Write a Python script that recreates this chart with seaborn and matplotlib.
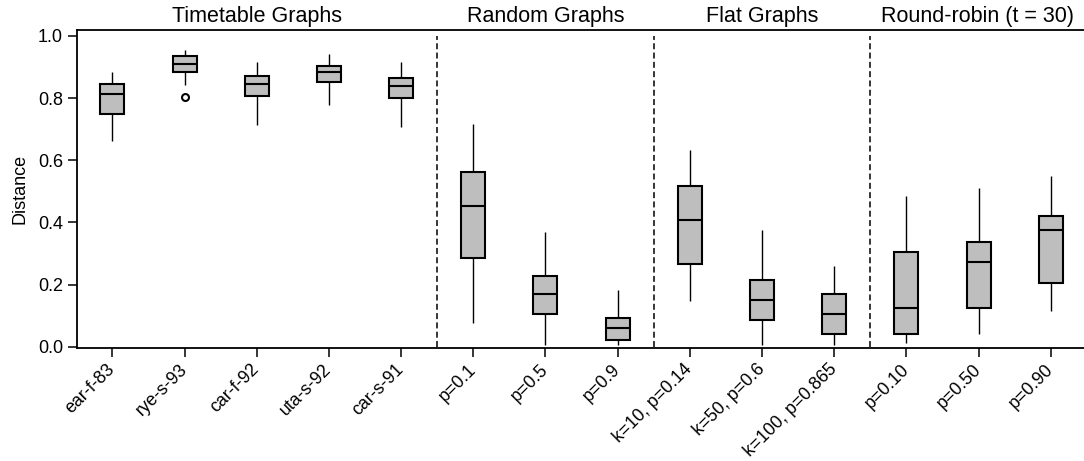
import matplotlib
matplotlib.use("Agg")
import matplotlib.pyplot as plt
import matplotlib.transforms as mtransforms
import pandas as pd
import seaborn as sns

# Instance names along the x axis, grouped into four families
categories = [
    "ear-f-83", "rye-s-93", "car-f-92", "uta-s-92", "car-s-91",
    "p=0.1", "p=0.5", "p=0.9",
    "k=10, p=0.14", "k=50, p=0.6", "k=100, p=0.865",
    "p=0.10", "p=0.50", "p=0.90",
]
group_names = ["Timetable Graphs", "Random Graphs", "Flat Graphs", "Round-robin (t = 30)"]
group_sizes = [5, 3, 3, 3]

# Five-number summaries of the distance per instance
whisker_low = [0.662, 0.842, 0.714, 0.778, 0.708,
               0.077, 0.005, 0.005,
               0.148, 0.005, 0.005,
               0.013, 0.040, 0.116]
q1 = [0.748, 0.885, 0.806, 0.852, 0.800,
      0.285, 0.105, 0.021,
      0.265, 0.085, 0.040,
      0.040, 0.125, 0.206]
median = [0.813, 0.911, 0.845, 0.885, 0.838,
          0.452, 0.169, 0.059,
          0.408, 0.150, 0.105,
          0.125, 0.272, 0.376]
q3 = [0.845, 0.936, 0.870, 0.903, 0.864,
      0.561, 0.228, 0.091,
      0.517, 0.214, 0.169,
      0.305, 0.337, 0.420]
whisker_high = [0.885, 0.955, 0.917, 0.942, 0.917,
                0.716, 0.369, 0.182,
                0.633, 0.376, 0.261,
                0.485, 0.510, 0.550]
outliers = {"rye-s-93": [0.804]}

# Long-form samples whose quartiles and whisker ends equal the summaries above
rows = []
for i, name in enumerate(categories):
    sample = outliers.get(name, []) + [whisker_low[i], q1[i], q1[i], median[i],
                                       median[i], q3[i], q3[i], whisker_high[i]]
    rows += [{"instance": name, "distance": v} for v in sample]
df = pd.DataFrame(rows)

sns.set_style("ticks")
plt.rcParams["font.family"] = ["Liberation Sans", "DejaVu Sans"]
plt.rcParams["lines.scale_dashes"] = False
for key in ["text.color", "axes.labelcolor", "xtick.color", "ytick.color",
            "xtick.labelcolor", "ytick.labelcolor", "axes.edgecolor"]:
    plt.rcParams[key] = "black"

fig = plt.figure(figsize=(10.84, 4.61), dpi=100)
ax = fig.add_axes([0.0708, 0.2451, 0.9292, 0.6898])

sns.boxplot(
    data=df, x="instance", y="distance", order=categories, ax=ax,
    width=0.333, color="#bebebe", linecolor="black", linewidth=1.5,
    whis=1.5, showcaps=False,
    whiskerprops=dict(linewidth=1.0, color="black"),
    medianprops=dict(linewidth=1.5, color="black"),
    flierprops=dict(marker="o", markersize=5, markerfacecolor="white",
                    markeredgecolor="black", markeredgewidth=1.5),
)

xmin, xmax = -0.493, 13.46
ax.set_xlim(xmin, xmax)
ax.set_ylim(-0.004, 1.019)

# Dashed separators between the instance families
bounds = [xmin]
acc = 0
for n in group_sizes[:-1]:
    acc += n
    bounds.append(acc - 0.5)
bounds.append(xmax)
for xs in bounds[1:-1]:
    ax.plot([xs, xs], [0.0, 1.0], color="black", lw=1.1, linestyle=(0, (4.3, 2.4)))

# Family headers above the frame
trans = mtransforms.blended_transform_factory(ax.transData, ax.transAxes)
for k, name in enumerate(group_names):
    ax.text((bounds[k] + bounds[k + 1]) / 2, 1.024, name, transform=trans,
            ha="center", va="baseline", fontsize=15.5, color="black", clip_on=False)

ax.set_yticks([0.0, 0.2, 0.4, 0.6, 0.8, 1.0])
ax.set_yticklabels([f"{v:.1f}" for v in [0.0, 0.2, 0.4, 0.6, 0.8, 1.0]], fontsize=13)
ax.set_ylabel("Distance", fontsize=13, color="black")
ax.yaxis.set_label_coords(-0.048, 0.5)
ax.set_xlabel("")

ax.tick_params(axis="both", length=6.5, width=1.1, color="black", labelcolor="black")
ax.tick_params(axis="y", pad=3.4)
ax.tick_params(axis="x", pad=7)
for lab in ax.get_xticklabels():
    lab.set_rotation(45)
    lab.set_ha("right")
    lab.set_va("center")
    lab.set_rotation_mode("anchor")
    lab.set_fontsize(12.8)

for side in ["top", "left", "bottom"]:
    ax.spines[side].set_visible(True)
    ax.spines[side].set_linewidth(1.3)
    ax.spines[side].set_color("black")
ax.spines["right"].set_visible(False)

fig.savefig("out.png", dpi=100)
